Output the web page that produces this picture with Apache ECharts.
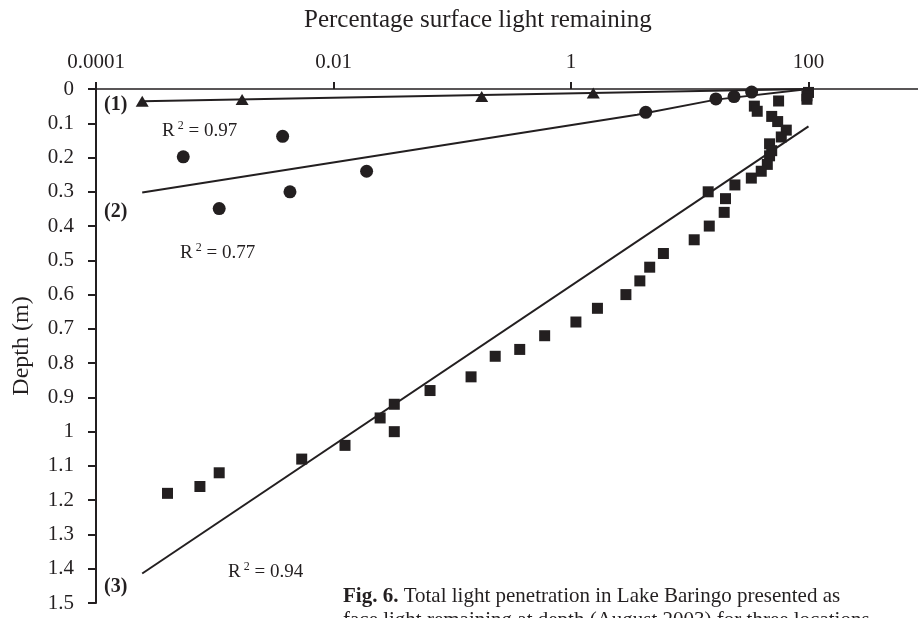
<!DOCTYPE html>
<html><head><meta charset="utf-8">
<script src="https://cdn.jsdelivr.net/npm/echarts@6/dist/echarts.min.js"></script>
<style>html,body{margin:0;padding:0;background:#fff}#c{width:918px;height:618px}</style>
</head><body><div id="c"></div>
<script>
// ---- tick labels ----
const xTickLabels = ['0.0001', '0.01', '1', '100', '10000'];
const yTickLabels = ['0','0.1','0.2','0.3','0.4','0.5','0.6','0.7','0.8','0.9','1','1.1','1.2','1.3','1.4','1.5'];

// ---- site (1): triangles ----
const site1Light = [0.000245, 0.0017, 0.177, 1.54];
const site1Depth = [0.036, 0.031, 0.022, 0.012];

// ---- site (2): circles ----
const site2Light = [0.000543, 0.00373, 0.019, 0.0043, 0.00109, 4.26, 16.6, 23.6, 33.2];
const site2Depth = [0.198, 0.138, 0.240, 0.300, 0.349, 0.068, 0.029, 0.022, 0.009];

// ---- site (3): squares ----
const site3Light = [100, 97, 97, 56, 35, 37, 49, 55, 65, 59,
  47, 49, 47, 45, 40, 33, 24, 14.3,
  20, 19.5, 14.6, 10.9, 6.0, 4.6, 3.8, 2.9, 1.67, 1.1,
  0.6, 0.37, 0.23, 0.144, 0.065, 0.0325, 0.0247, 0.0325, 0.0125, 0.0054,
  0.00109, 0.00075, 0.0004];
const site3Depth = [0.01, 0.02, 0.03, 0.035, 0.05, 0.065, 0.08, 0.095, 0.12, 0.14,
  0.16, 0.18, 0.195, 0.22, 0.24, 0.26, 0.28, 0.30,
  0.32, 0.36, 0.40, 0.44, 0.48, 0.52, 0.56, 0.60, 0.64, 0.68,
  0.72, 0.76, 0.78, 0.84, 0.88, 0.92, 0.96, 1.0, 1.04, 1.08,
  1.12, 1.16, 1.18];

// ---- trend lines ----
const trend1Light = [0.000245, 100];
const trend1Depth = [0.036, 0.0];
const trend2Light = [0.000245, 3.6, 16.6, 100];
const trend2Depth = [0.302, 0.075, 0.031, 0.0];
const trend3Light = [0.000245, 100];
const trend3Depth = [1.414, 0.109];

const zip = (a, b) => a.map((v, i) => [v, b[i]]);
const INK = '#231f20';
const FONT = "'Liberation Serif', 'Times New Roman', serif";

const chart = echarts.init(document.getElementById('c'), null, {renderer: 'canvas'});

function r2(val, x, y) {
  return {
    type: 'text', left: x, top: y,
    style: {
      text: '{r|R}{s| 2}{r| = ' + val + '}',
      rich: {
        r: {fontFamily: FONT, fontSize: 19, fill: INK, lineHeight: 22},
        s: {fontFamily: FONT, fontSize: 12, fill: INK, verticalAlign: 'top', lineHeight: 12}
      }
    }
  };
}
function tag(t, x, y) {
  return {type: 'text', left: x, top: y,
    style: {text: t, fontFamily: FONT, fontSize: 20, fontWeight: 'bold', fill: INK}};
}

chart.setOption({
  animation: false,
  backgroundColor: '#fff',
  title: {
    text: 'Percentage surface light remaining',
    left: 299, top: 3,
    textStyle: {fontFamily: FONT, fontSize: 25, fontWeight: 'normal', color: INK}
  },
  grid: {left: 96, top: 89, width: 950, height: 514, containLabel: false, outerBoundsMode: 'none'},
  xAxis: {
    type: 'log', logBase: 100, min: 0.0001, max: 10000,
    position: 'top',
    axisLine: {onZero: false, lineStyle: {color: INK, width: 1.5}},
    axisTick: {show: true, inside: false, length: 7, lineStyle: {color: INK, width: 2}},
    minorTick: {show: false},
    splitLine: {show: false},
    axisLabel: {
      margin: 16, color: INK, fontFamily: FONT, fontSize: 21,
      formatter: (v, i) => xTickLabels[i]
    }
  },
  yAxis: {
    type: 'value', inverse: true, min: 0, max: 1.5, interval: 0.1,
    name: 'Depth (m)', nameLocation: 'middle', nameGap: 62,
    nameTextStyle: {fontFamily: FONT, fontSize: 24, color: INK},
    axisLine: {show: true, lineStyle: {color: INK, width: 2}},
    axisTick: {show: true, inside: false, length: 8, lineStyle: {color: INK, width: 2}},
    splitLine: {show: false},
    axisLabel: {
      margin: 22, color: INK, fontFamily: FONT, fontSize: 21,
      formatter: (v, i) => yTickLabels[i]
    }
  },
  series: [
    {type: 'line', data: zip(trend1Light, trend1Depth), showSymbol: false, symbol: 'none',
      lineStyle: {color: INK, width: 2}, z: 1, silent: true},
    {type: 'line', data: zip(trend2Light, trend2Depth), showSymbol: false, symbol: 'none',
      lineStyle: {color: INK, width: 2}, z: 1, silent: true},
    {type: 'line', data: zip(trend3Light, trend3Depth), showSymbol: false, symbol: 'none',
      lineStyle: {color: INK, width: 2}, z: 1, silent: true},
    {type: 'scatter', data: zip(site1Light, site1Depth), symbol: 'triangle', symbolSize: [13, 11],
      itemStyle: {color: INK, opacity: 1}, z: 3},
    {type: 'scatter', data: zip(site2Light, site2Depth), symbol: 'circle', symbolSize: 13,
      itemStyle: {color: INK, opacity: 1}, z: 3},
    {type: 'scatter', data: zip(site3Light, site3Depth), symbol: 'rect', symbolSize: 11,
      itemStyle: {color: INK, opacity: 1}, z: 3}
  ],
  graphic: [
    tag('(1)', 104, 95),
    r2('0.97', 162, 120),
    tag('(2)', 104, 202),
    r2('0.77', 180, 242),
    tag('(3)', 104, 577),
    r2('0.94', 228, 561),
    {type: 'text', left: 343, top: 586,
      style: {text: '{b|Fig. 6.}{n| Total light penetration in Lake Baringo presented as}',
        rich: {
          b: {fontFamily: FONT, fontSize: 21, fontWeight: 'bold', fill: INK},
          n: {fontFamily: FONT, fontSize: 21, fill: INK}
        }}},
    {type: 'text', left: 343, top: 610,
      style: {text: 'face light remaining at depth (August 2003) for three locations',
        fontFamily: FONT, fontSize: 21, fill: INK}}
  ]
});
</script></body></html>
